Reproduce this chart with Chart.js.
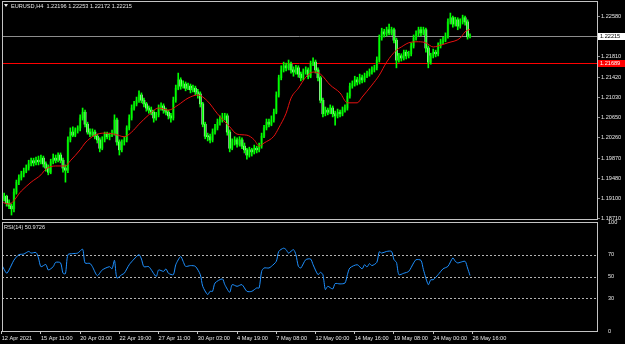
<!DOCTYPE html>
<html>
<head>
<meta charset="utf-8">
<title>EURUSD,H4</title>
<script src="https://cdn.jsdelivr.net/npm/chart.js@4.4.0/dist/chart.umd.min.js"></script>
<style>
  html, body { margin: 0; padding: 0; background: #000; }
  #wrap { position: relative; width: 625px; height: 344px; background: #000; overflow: hidden; }
  #wrap canvas { position: absolute; left: 0; }
  #priceCanvas { top: 0; }
  #rsiCanvas { top: 218px; }
</style>
</head>
<body>
<div id="wrap">
  <canvas id="priceCanvas" width="625" height="224"></canvas>
  <canvas id="rsiCanvas" width="625" height="126"></canvas>
</div>
<script>
// H4 candles, bar 0 = leftmost bar on screen
const opens = [
  1.1913, 1.1909, 1.1914, 1.1901, 1.1895, 1.1890, 1.1922, 1.1941, 1.1949, 1.1957,
  1.1962, 1.1968, 1.1976, 1.1982, 1.1978, 1.1983, 1.1980, 1.1987, 1.1976, 1.1968,
  1.1960, 1.1980, 1.1987, 1.1983, 1.1993, 1.1983, 1.1968, 1.1964, 1.2022, 1.2037,
  1.2031, 1.2041, 1.2045, 1.2064, 1.2075, 1.2052, 1.2037, 1.2033, 1.2037, 1.2029,
  1.2022, 1.2006, 1.2022, 1.2033, 1.2028, 1.2031, 1.2035, 1.2060, 1.2018, 1.2003,
  1.2018, 1.2022, 1.2045, 1.2064, 1.2083, 1.2091, 1.2098, 1.2108, 1.2098, 1.2091,
  1.2083, 1.2079, 1.2075, 1.2064, 1.2070, 1.2083, 1.2087, 1.2079, 1.2075, 1.2068,
  1.2064, 1.2098, 1.2121, 1.2137, 1.2125, 1.2129, 1.2121, 1.2125, 1.2118, 1.2121,
  1.2114, 1.2110, 1.2091, 1.2052, 1.2029, 1.2028, 1.2022, 1.2037, 1.2045, 1.2056,
  1.2060, 1.2064, 1.2068, 1.2037, 1.2006, 1.2018, 1.2022, 1.2014, 1.2022, 1.2010,
  1.2003, 1.1993, 1.2003, 1.1999, 1.2006, 1.2003, 1.2010, 1.2029, 1.2045, 1.2056,
  1.2052, 1.2060, 1.2075, 1.2108, 1.2141, 1.2156, 1.2164, 1.2160, 1.2167, 1.2156,
  1.2152, 1.2160, 1.2148, 1.2141, 1.2152, 1.2156, 1.2144, 1.2167, 1.2171, 1.2156,
  1.2141, 1.2098, 1.2072, 1.2079, 1.2075, 1.2083, 1.2072, 1.2068, 1.2075, 1.2072,
  1.2079, 1.2083, 1.2106, 1.2125, 1.2129, 1.2137, 1.2133, 1.2141, 1.2137, 1.2144,
  1.2148, 1.2152, 1.2156, 1.2160, 1.2175, 1.2217, 1.2229, 1.2225, 1.2233, 1.2227,
  1.2233, 1.2213, 1.2175, 1.2183, 1.2179, 1.2190, 1.2183, 1.2187, 1.2202, 1.2217,
  1.2225, 1.2233, 1.2227, 1.2233, 1.2198, 1.2171, 1.2183, 1.2190, 1.2187, 1.2202,
  1.2210, 1.2213, 1.2221, 1.2248, 1.2256, 1.2244, 1.2252, 1.2240, 1.2248, 1.2256,
  1.2248, 1.22196
];
const highs = [
  1.1918, 1.1920, 1.1916, 1.1907, 1.1899, 1.1928, 1.1945, 1.1955, 1.1962, 1.1968,
  1.1974, 1.1983, 1.1987, 1.1987, 1.1989, 1.1991, 1.1993, 1.1991, 1.1980, 1.1974,
  1.1985, 1.1995, 1.1993, 1.1997, 1.1997, 1.1987, 1.1974, 1.2028, 1.2045, 1.2047,
  1.2045, 1.2049, 1.2070, 1.2083, 1.2079, 1.2056, 1.2043, 1.2043, 1.2041, 1.2033,
  1.2026, 1.2028, 1.2037, 1.2037, 1.2035, 1.2041, 1.2070, 1.2064, 1.2022, 1.2022,
  1.2028, 1.2049, 1.2070, 1.2089, 1.2096, 1.2104, 1.2116, 1.2112, 1.2102, 1.2094,
  1.2087, 1.2085, 1.2079, 1.2075, 1.2089, 1.2093, 1.2091, 1.2083, 1.2079, 1.2073,
  1.2104, 1.2127, 1.2150, 1.2141, 1.2135, 1.2133, 1.2131, 1.2129, 1.2127, 1.2125,
  1.2119, 1.2114, 1.2094, 1.2056, 1.2035, 1.2033, 1.2043, 1.2052, 1.2062, 1.2068,
  1.2073, 1.2073, 1.2072, 1.2041, 1.2024, 1.2028, 1.2026, 1.2028, 1.2026, 1.2016,
  1.2006, 1.2008, 1.2006, 1.2012, 1.2010, 1.2016, 1.2035, 1.2050, 1.2062, 1.2062,
  1.2068, 1.2081, 1.2114, 1.2146, 1.2164, 1.2171, 1.2169, 1.2175, 1.2171, 1.2162,
  1.2165, 1.2164, 1.2152, 1.2158, 1.2162, 1.2160, 1.2173, 1.2179, 1.2175, 1.2160,
  1.2144, 1.2102, 1.2085, 1.2083, 1.2089, 1.2087, 1.2077, 1.2081, 1.2079, 1.2085,
  1.2089, 1.2112, 1.2131, 1.2135, 1.2144, 1.2142, 1.2148, 1.2146, 1.2150, 1.2154,
  1.2158, 1.2162, 1.2165, 1.2181, 1.2223, 1.2236, 1.2234, 1.2238, 1.2244, 1.2238,
  1.2236, 1.2217, 1.2188, 1.2187, 1.2194, 1.2194, 1.2192, 1.2208, 1.2223, 1.2231,
  1.2238, 1.2238, 1.2238, 1.2236, 1.2202, 1.2188, 1.2196, 1.2194, 1.2208, 1.2215,
  1.2219, 1.2227, 1.2254, 1.2265, 1.2259, 1.2257, 1.2256, 1.2254, 1.2261, 1.2259,
  1.2252, 1.22253
];
const lows = [
  1.1903, 1.1905, 1.1895, 1.1890, 1.1878, 1.1884, 1.1918, 1.1936, 1.1945, 1.1951,
  1.1959, 1.1964, 1.1972, 1.1972, 1.1974, 1.1974, 1.1976, 1.1970, 1.1962, 1.1955,
  1.1957, 1.1976, 1.1978, 1.1980, 1.1978, 1.1960, 1.1941, 1.1959, 1.2018, 1.2028,
  1.2028, 1.2035, 1.2039, 1.2060, 1.2047, 1.2033, 1.2028, 1.2029, 1.2024, 1.2016,
  1.1999, 1.2003, 1.2018, 1.2024, 1.2022, 1.2028, 1.2031, 1.2012, 1.1993, 1.1999,
  1.2012, 1.2018, 1.2041, 1.2060, 1.2079, 1.2087, 1.2094, 1.2093, 1.2085, 1.2077,
  1.2073, 1.2070, 1.2056, 1.2060, 1.2066, 1.2079, 1.2073, 1.2070, 1.2062, 1.2056,
  1.2060, 1.2094, 1.2118, 1.2119, 1.2121, 1.2116, 1.2118, 1.2112, 1.2114, 1.2108,
  1.2102, 1.2085, 1.2047, 1.2024, 1.2020, 1.2016, 1.2018, 1.2033, 1.2041, 1.2050,
  1.2056, 1.2060, 1.2031, 1.1999, 1.2003, 1.2012, 1.2008, 1.2010, 1.2005, 1.1997,
  1.1985, 1.1989, 1.1991, 1.1995, 1.1997, 1.1999, 1.2006, 1.2026, 1.2041, 1.2047,
  1.2049, 1.2056, 1.2072, 1.2104, 1.2137, 1.2152, 1.2154, 1.2156, 1.2150, 1.2144,
  1.2148, 1.2142, 1.2135, 1.2137, 1.2148, 1.2139, 1.2141, 1.2164, 1.2150, 1.2135,
  1.2093, 1.2066, 1.2068, 1.2070, 1.2072, 1.2066, 1.2050, 1.2064, 1.2066, 1.2068,
  1.2075, 1.2079, 1.2102, 1.2121, 1.2125, 1.2127, 1.2129, 1.2131, 1.2133, 1.2141,
  1.2144, 1.2148, 1.2152, 1.2156, 1.2171, 1.2213, 1.2219, 1.2221, 1.2223, 1.2223,
  1.2208, 1.2160, 1.2171, 1.2173, 1.2175, 1.2177, 1.2179, 1.2183, 1.2198, 1.2213,
  1.2221, 1.2221, 1.2223, 1.2190, 1.2160, 1.2167, 1.2179, 1.2181, 1.2183, 1.2198,
  1.2206, 1.2210, 1.2217, 1.2244, 1.2238, 1.2240, 1.2233, 1.2236, 1.2244, 1.2242,
  1.2215, 1.22172
];
const closes = [
  1.1909, 1.1914, 1.1901, 1.1895, 1.1890, 1.1922, 1.1941, 1.1949, 1.1957, 1.1962,
  1.1968, 1.1976, 1.1982, 1.1978, 1.1983, 1.1980, 1.1987, 1.1976, 1.1968, 1.1960,
  1.1980, 1.1987, 1.1983, 1.1993, 1.1983, 1.1968, 1.1964, 1.2022, 1.2037, 1.2031,
  1.2041, 1.2045, 1.2064, 1.2075, 1.2052, 1.2037, 1.2033, 1.2037, 1.2029, 1.2022,
  1.2006, 1.2022, 1.2033, 1.2028, 1.2031, 1.2035, 1.2060, 1.2018, 1.2003, 1.2018,
  1.2022, 1.2045, 1.2064, 1.2083, 1.2091, 1.2098, 1.2108, 1.2098, 1.2091, 1.2083,
  1.2079, 1.2075, 1.2064, 1.2070, 1.2083, 1.2087, 1.2079, 1.2075, 1.2068, 1.2064,
  1.2098, 1.2121, 1.2137, 1.2125, 1.2129, 1.2121, 1.2125, 1.2118, 1.2121, 1.2114,
  1.2110, 1.2091, 1.2052, 1.2029, 1.2028, 1.2022, 1.2037, 1.2045, 1.2056, 1.2060,
  1.2064, 1.2068, 1.2037, 1.2006, 1.2018, 1.2022, 1.2014, 1.2022, 1.2010, 1.2003,
  1.1993, 1.2003, 1.1999, 1.2006, 1.2003, 1.2010, 1.2029, 1.2045, 1.2056, 1.2052,
  1.2060, 1.2075, 1.2108, 1.2141, 1.2156, 1.2164, 1.2160, 1.2167, 1.2156, 1.2152,
  1.2160, 1.2148, 1.2141, 1.2152, 1.2156, 1.2144, 1.2167, 1.2171, 1.2156, 1.2141,
  1.2098, 1.2072, 1.2079, 1.2075, 1.2083, 1.2072, 1.2068, 1.2075, 1.2072, 1.2079,
  1.2083, 1.2106, 1.2125, 1.2129, 1.2137, 1.2133, 1.2141, 1.2137, 1.2144, 1.2148,
  1.2152, 1.2156, 1.2160, 1.2175, 1.2217, 1.2229, 1.2225, 1.2233, 1.2227, 1.2233,
  1.2213, 1.2175, 1.2183, 1.2179, 1.2190, 1.2183, 1.2187, 1.2202, 1.2217, 1.2225,
  1.2233, 1.2227, 1.2233, 1.2198, 1.2171, 1.2183, 1.2190, 1.2187, 1.2202, 1.2210,
  1.2213, 1.2221, 1.2248, 1.2256, 1.2244, 1.2252, 1.2240, 1.2248, 1.2256, 1.2248,
  1.22196, 1.22215
];

// moving average (red), read at these bars
const maBars = [0, 3, 8, 12, 16, 18, 22, 26, 28, 32, 34, 38, 42, 46, 50, 53, 56, 60, 64, 68,
  72, 76, 80, 84, 88, 93, 96, 100, 103, 105, 107, 111, 113, 116, 118, 121, 124, 127, 130, 134,
  138, 141, 145, 147, 151, 154, 157, 161, 163, 166, 170, 173, 176, 178, 182, 187, 189, 191];
const maValues = [1.1903, 1.1899, 1.1924, 1.1941, 1.1955, 1.1966, 1.1972, 1.1972, 1.1982, 1.2003,
  1.2016, 1.2031, 1.2035, 1.2033, 1.2028, 1.2037, 1.2052, 1.2070, 1.2083, 1.2079,
  1.2089, 1.2102, 1.2108, 1.2096, 1.2072, 1.2047, 1.2033, 1.2031, 1.2022, 1.2010,
  1.2016, 1.2029, 1.2045, 1.2073, 1.2102, 1.2121, 1.2142, 1.2152, 1.2148, 1.2127,
  1.2112, 1.2093, 1.2093, 1.2104, 1.2127, 1.2146, 1.2171, 1.2194, 1.2200, 1.2208,
  1.2210, 1.2208, 1.2200, 1.2202, 1.2208, 1.2217, 1.2229, 1.2234];

// RSI(14), read at these bars
const rsiBars = [0, 2, 3, 5, 7, 9, 11, 12, 14, 15, 16, 18, 19, 21, 22, 24, 25, 26, 27, 29,
  31, 33, 34, 36, 37, 39, 41, 44, 45, 46, 47, 49, 50, 52, 54, 56, 57, 58, 60, 63,
  64, 66, 67, 68, 70, 71, 73, 74, 75, 77, 79, 81, 82, 84, 85, 86, 87, 90, 91, 93,
  94, 96, 98, 100, 102, 104, 105, 106, 107, 109, 110, 112, 113, 115, 116, 117, 119, 120, 121, 122,
  124, 126, 127, 129, 130, 131, 132, 133, 135, 136, 138, 140, 141, 142, 145, 147, 148, 149, 150, 151,
  153, 154, 155, 157, 159, 160, 161, 162, 164, 166, 168, 169, 171, 172, 174, 175, 176, 178, 180, 182,
  184, 185, 186, 187, 189, 190, 191];
const rsiValues = [60.8, 53, 56, 65, 70, 70.6, 73, 71.5, 72, 67, 59, 61, 56, 59, 63, 62.5, 53, 52.6, 70, 71,
  71.5, 75, 62.4, 62, 59, 50.8, 56, 59, 57, 64.8, 48.7, 51.7, 53, 60.8, 66, 70, 66, 59, 59, 50,
  56, 54.7, 57, 53, 51.7, 60.8, 68.4, 63.9, 59.3, 60, 59.3, 51.7, 41, 33.4, 36.4, 36.4, 44, 47.8, 42.5, 35.5,
  42.5, 41, 42.5, 36.4, 36.4, 39.5, 39.5, 54.7, 57.8, 57.8, 59.3, 63.9, 73, 76, 74.6, 71.5, 74.6, 70, 59.3, 57.8,
  65.4, 66, 60.8, 51.7, 53.8, 51.7, 38, 41, 38.6, 43.5, 43.2, 44, 51.7, 57.8, 60.8, 57, 60.8, 58.7, 61.8, 60,
  63, 72.7, 71.5, 73, 73, 65.4, 63, 51.7, 53, 54.7, 62.4, 65.4, 64.8, 56.3, 42.5, 47, 47, 51.7, 57, 59.3,
  67, 63.9, 62.4, 63, 63.9, 57.8, 50.97];

// axis ticks
const timeTickBars = [0, 16, 32, 48, 64, 80, 96, 112, 128, 144, 160, 176, 192];
const timeTickLabels = ['12 Apr 2021', '15 Apr 11:00', '20 Apr 03:00', '22 Apr 19:00', '27 Apr 11:00',
  '30 Apr 03:00', '4 May 19:00', '7 May 08:00', '12 May 00:00', '14 May 16:00', '19 May 08:00',
  '24 May 00:00', '26 May 16:00'];
const priceTicks = [1.22580, 1.21810, 1.21420, 1.21030, 1.20650, 1.20260, 1.19870, 1.19480, 1.19100, 1.18710];
const rsiTicks = [100, 70, 50, 30, 0];
const rsiLevels = [70, 50, 30];

const bidPrice = 1.22215;
const linePrice = 1.21689;
const titleText = 'EURUSD,H4  1.22196 1.22253 1.22172 1.22215';
const rsiText = 'RSI(14) 50.9726';

const textColor = '#e6e6e6';
const frameColor = '#c4c4c4';
const fontFamily = '"Liberation Sans", Arial, sans-serif';
const fontSize = 5.6;

Chart.defaults.font.family = fontFamily;
Chart.defaults.font.size = fontSize;
Chart.defaults.color = textColor;
Chart.defaults.animation = false;

// shared time axis range (bar units)
const xMin = 0.12;
const xMax = 242.8;

// frame, horizontal levels, price boxes, captions
const panelPlugin = {
  id: 'panel',
  beforeDatasetsDraw(chart, args, opts) {
    const { ctx, chartArea: a } = chart;
    const y = chart.scales.y;
    ctx.save();
    ctx.lineWidth = 1;
    (opts.hLines || []).forEach(l => {
      const py = Math.round(y.getPixelForValue(l.value)) + 0.5;
      ctx.strokeStyle = l.color;
      ctx.setLineDash(l.dash || []);
      ctx.beginPath();
      ctx.moveTo(a.left, py);
      ctx.lineTo(a.right, py);
      ctx.stroke();
    });
    ctx.restore();
  },
  afterDraw(chart, args, opts) {
    const { ctx, chartArea: a } = chart;
    const y = chart.scales.y;
    ctx.save();
    ctx.strokeStyle = frameColor;
    ctx.lineWidth = 1;
    ctx.strokeRect(a.left + 0.5, a.top + 0.5, a.right - a.left, a.bottom - a.top);

    ctx.font = fontSize + 'px ' + fontFamily;
    ctx.textBaseline = 'middle';
    ctx.textAlign = 'left';
    (opts.boxes || []).forEach(b => {
      const py = Math.round(y.getPixelForValue(b.value));
      ctx.fillStyle = b.bg;
      ctx.fillRect(a.right + 1, py - 3, 28, 7);
      ctx.fillStyle = b.fg;
      ctx.fillText(b.text, a.right + 3, py + 0.5);
    });

    if (opts.arrow) {
      ctx.fillStyle = textColor;
      ctx.beginPath();
      ctx.moveTo(a.left + 2, a.top + 3);
      ctx.lineTo(a.left + 6, a.top + 3);
      ctx.lineTo(a.left + 4, a.top + 6);
      ctx.closePath();
      ctx.fill();
    }
    if (opts.caption) {
      ctx.fillStyle = textColor;
      ctx.fillText(opts.caption, a.left + opts.captionX, a.top + opts.captionY);
    }
    ctx.restore();
  }
};

function fixWidth(s) {
  s.width = 28;
  s.paddingTop = 0;
  s.paddingBottom = 0;
}

// price panel
const bodyData = closes.map((c, i) => ({ x: i, y: [opens[i], c] }));
const wickData = closes.map((c, i) => ({ x: i, y: [lows[i], highs[i]] }));
const maData = maBars.map((b, k) => ({ x: b, y: maValues[k] }));

new Chart(document.getElementById('priceCanvas'), {
  type: 'bar',
  data: {
    datasets: [
      {
        type: 'line',
        data: maData,
        borderColor: '#e81010',
        borderWidth: 1,
        pointRadius: 0,
        cubicInterpolationMode: 'monotone',
        order: 0
      },
      {
        data: wickData,
        backgroundColor: '#00ff00',
        barThickness: 1,
        grouped: false,
        order: 1
      },
      {
        data: bodyData,
        backgroundColor: ctx => closes[ctx.dataIndex] >= opens[ctx.dataIndex] ? '#005c00' : '#eaffea',
        barThickness: 2,
        minBarLength: 1,
        grouped: false,
        order: 2
      }
    ]
  },
  options: {
    responsive: false,
    events: [],
    layout: { autoPadding: false, padding: { left: 2, top: 1, right: 0, bottom: 5 } },
    plugins: {
      legend: { display: false },
      tooltip: { enabled: false },
      panel: {
        hLines: [
          { value: bidPrice, color: '#8c8c8c' },
          { value: linePrice, color: '#ff0000' }
        ],
        boxes: [
          { value: bidPrice, text: bidPrice.toFixed(5), bg: '#ffffff', fg: '#000000' },
          { value: linePrice, text: linePrice.toFixed(5), bg: '#ff0000', fg: '#ffffff' }
        ],
        arrow: true,
        caption: titleText,
        captionX: 9,
        captionY: 5
      }
    },
    scales: {
      x: { type: 'linear', min: xMin, max: xMax, offset: false, display: false },
      y: {
        position: 'right',
        min: 1.18704,
        max: 1.22881,
        afterBuildTicks: s => { s.ticks = priceTicks.map(v => ({ value: v })); },
        afterFit: fixWidth,
        ticks: { autoSkip: false, padding: 1, callback: v => v.toFixed(5) },
        grid: { drawOnChartArea: false, tickLength: 3, color: '#909090' },
        border: { display: false }
      }
    }
  },
  plugins: [panelPlugin]
});

// RSI panel with time axis
const rsiData = rsiBars.map((b, k) => ({ x: b, y: rsiValues[k] }));

new Chart(document.getElementById('rsiCanvas'), {
  type: 'line',
  data: {
    datasets: [{
      data: rsiData,
      borderColor: '#1e90ff',
      borderWidth: 1,
      pointRadius: 0,
      tension: 0.25
    }]
  },
  options: {
    responsive: false,
    events: [],
    layout: { autoPadding: false, padding: { left: 2, top: 4, right: 0, bottom: 0 } },
    plugins: {
      legend: { display: false },
      tooltip: { enabled: false },
      panel: {
        hLines: rsiLevels.map(v => ({ value: v, color: '#b4b4b4', dash: [2, 2] })),
        caption: rsiText,
        captionX: 2,
        captionY: 5
      }
    },
    scales: {
      x: {
        type: 'linear',
        min: xMin,
        max: xMax,
        offset: false,
        afterBuildTicks: s => { s.ticks = timeTickBars.map(v => ({ value: v })); },
        afterFit: s => { s.height = 13; s.paddingLeft = 0; s.paddingRight = 0; },
        ticks: {
          autoSkip: false,
          maxRotation: 0,
          minRotation: 0,
          align: 'start',
          padding: 1,
          callback: (v, i) => timeTickLabels[i]
        },
        grid: { drawOnChartArea: false, tickLength: 3, color: '#c4c4c4' },
        border: { display: false }
      },
      y: {
        position: 'right',
        min: 0,
        max: 100,
        afterBuildTicks: s => { s.ticks = rsiTicks.map(v => ({ value: v })); },
        afterFit: fixWidth,
        ticks: { autoSkip: false, padding: 3 },
        grid: { display: false },
        border: { display: false }
      }
    }
  },
  plugins: [panelPlugin]
});
</script>
</body>
</html>
